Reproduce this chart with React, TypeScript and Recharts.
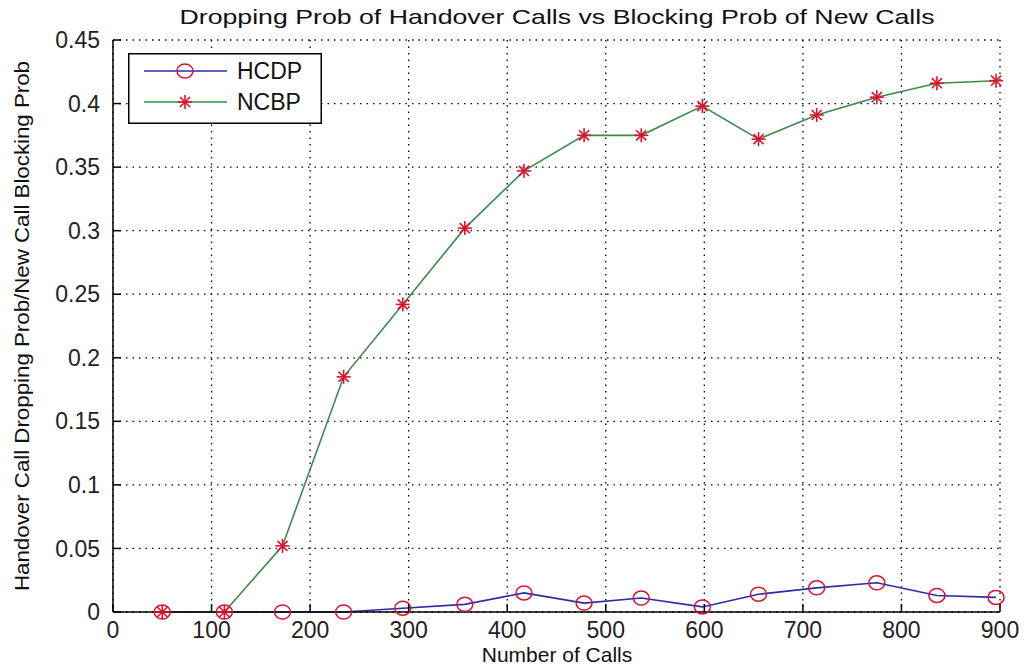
import React from 'react';
import { LineChart, Line, XAxis, YAxis, CartesianGrid } from 'recharts';

// number of calls (x) and the two probabilities
const calls = [50, 113, 172, 234, 294, 357, 417, 478, 536, 598, 655, 714, 775, 836, 896];
const hcdp = [0, 0, 0, 0, 0.003, 0.006, 0.015, 0.007, 0.011, 0.004, 0.014, 0.019, 0.023, 0.013, 0.0115];
const ncbp = [0, 0, 0.052, 0.185, 0.242, 0.302, 0.347, 0.375, 0.375, 0.398, 0.372, 0.391, 0.405, 0.416, 0.418];

const xTicks = [0, 100, 200, 300, 400, 500, 600, 700, 800, 900];
const yTicks = [0, 0.05, 0.1, 0.15, 0.2, 0.25, 0.3, 0.35, 0.4, 0.45];
const yTickLabels = ['0', '0.05', '0.1', '0.15', '0.2', '0.25', '0.3', '0.35', '0.4', '0.45'];

const seriesNames = ['HCDP', 'NCBP'];

const BLUE = '#2c2ca8';
const GREEN = '#3a8a4e';
const RED = '#e0102a';
const FONT = '"Liberation Sans", Arial, sans-serif';

const data = calls.map((c, i) => ({ calls: c, HCDP: hcdp[i], NCBP: ncbp[i] }));

const CircleMark = ({ cx, cy }: any) => {
  if (cx == null || cy == null) return null;
  return <ellipse cx={cx} cy={cy} rx={8} ry={7} fill="none" stroke={RED} strokeWidth={1.5} />;
};

const StarMark = ({ cx, cy }: any) => {
  if (cx == null || cy == null) return null;
  const r = 7;
  const d = r * 0.72;
  return (
    <g stroke={RED} strokeWidth={1.6}>
      <line x1={cx - r} y1={cy} x2={cx + r} y2={cy} />
      <line x1={cx} y1={cy - r} x2={cx} y2={cy + r} />
      <line x1={cx - d} y1={cy - d} x2={cx + d} y2={cy + d} />
      <line x1={cx - d} y1={cy + d} x2={cx + d} y2={cy - d} />
    </g>
  );
};

const LegendBox = () => (
  <svg width={194} height={71} style={{ position: 'absolute', left: 128, top: 53, display: 'block' }}>
    <rect x={0.75} y={0.75} width={192.5} height={69.5} fill="#fff" stroke="#000" strokeWidth={1.5} />
    {seriesNames.map((name, i) => {
      const y = 18 + i * 31;
      return (
        <g key={name}>
          <line x1={16} y1={y} x2={99} y2={y} stroke={i === 0 ? BLUE : GREEN} strokeWidth={1.6} />
          {i === 0 ? <CircleMark cx={57} cy={y} /> : <StarMark cx={57} cy={y} />}
          <text x={109} y={y + 8} fontSize={23} fontFamily={FONT} fill="#111">{name}</text>
        </g>
      );
    })}
  </svg>
);

export default function App() {
  return (
    <div style={{ position: 'relative', width: 1028, height: 672, margin: -8, background: '#fff' }}>
      <LineChart
        width={1028}
        height={672}
        data={data}
        margin={{ top: 40, right: 28, bottom: 0, left: 0 }}
      >
        <CartesianGrid stroke="#000" strokeDasharray="1.5 5" strokeWidth={1.3} />
        <XAxis
          dataKey="calls"
          type="number"
          domain={[0, 900]}
          ticks={xTicks}
          height={60}
          tickSize={-8}
          tickMargin={18}
          axisLine={{ stroke: '#000', strokeWidth: 1.5 }}
          tickLine={{ stroke: '#000', strokeWidth: 1.5 }}
          tick={{ fontSize: 23, fontFamily: FONT, fill: '#222' }}
        />
        <XAxis
          xAxisId="top"
          dataKey="calls"
          type="number"
          orientation="top"
          domain={[0, 900]}
          ticks={xTicks}
          height={0}
          tickSize={-8}
          tickFormatter={() => ''}
          axisLine={{ stroke: '#000', strokeWidth: 1.5 }}
          tickLine={{ stroke: '#000', strokeWidth: 1.5 }}
        />
        <YAxis
          type="number"
          domain={[0, 0.45]}
          ticks={yTicks}
          width={113}
          tickSize={-8}
          tickMargin={21}
          tickFormatter={(v: number) => yTickLabels[yTicks.indexOf(v)] ?? String(v)}
          axisLine={{ stroke: '#000', strokeWidth: 1.5 }}
          tickLine={{ stroke: '#000', strokeWidth: 1.5 }}
          tick={{ fontSize: 23, fontFamily: FONT, fill: '#222' }}
        />
        <YAxis
          yAxisId="right"
          orientation="right"
          type="number"
          domain={[0, 0.45]}
          ticks={yTicks}
          width={0}
          tickSize={-8}
          tickFormatter={() => ''}
          axisLine={{ stroke: '#000', strokeWidth: 1.5 }}
          tickLine={{ stroke: '#000', strokeWidth: 1.5 }}
        />
        <Line
          dataKey="HCDP"
          stroke={BLUE}
          strokeWidth={1.6}
          dot={<CircleMark />}
          activeDot={false}
          isAnimationActive={false}
        />
        <Line
          dataKey="NCBP"
          stroke={GREEN}
          strokeWidth={1.6}
          dot={<StarMark />}
          activeDot={false}
          isAnimationActive={false}
        />
      </LineChart>
      <LegendBox />
      <svg
        width={1028}
        height={672}
        style={{ position: 'absolute', left: 0, top: 0, pointerEvents: 'none' }}
      >
        <text
          x={557}
          y={24}
          textAnchor="middle"
          fontSize={21}
          fontFamily={FONT}
          fill="#111"
          textLength={755}
          lengthAdjust="spacingAndGlyphs"
        >
          Dropping Prob of Handover Calls vs Blocking Prob of New Calls
        </text>
        <text
          x={557}
          y={662}
          textAnchor="middle"
          fontSize={21}
          fontFamily={FONT}
          fill="#111"
        >
          Number of Calls
        </text>
        <text
          transform="translate(29,326) rotate(-90)"
          textAnchor="middle"
          fontSize={20}
          fontFamily={FONT}
          fill="#111"
          textLength={530}
          lengthAdjust="spacingAndGlyphs"
        >
          Handover Call Dropping Prob/New Call Blocking Prob
        </text>
      </svg>
    </div>
  );
}
